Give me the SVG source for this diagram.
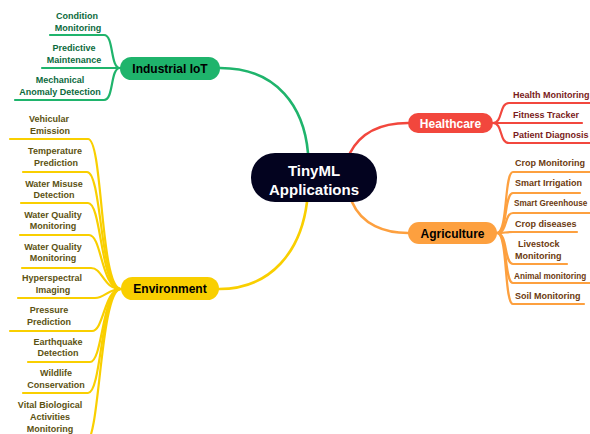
<svg xmlns="http://www.w3.org/2000/svg" width="590" height="434" viewBox="0 0 590 434">
<style>
text{font-family:"Liberation Sans",Arial,sans-serif;font-weight:bold}
.c{fill:none;stroke-width:2.2;stroke-linecap:round}
.m{fill:none;stroke-width:2.6;stroke-linecap:round}
.g{stroke:#1fb46c}.r{stroke:#f2473d}.o{stroke:#fda03f}.y{stroke:#f9cf00}
.tg{fill:#0c6a3d;font-size:9px;text-anchor:middle}
.tr{fill:#7a1b1b;font-size:9px}
.to{fill:#6c3a0f;font-size:9px}
.ts{fill:#6c3a0f;font-size:8.2px}
.ty{fill:#5c5212;font-size:9px;text-anchor:middle}
.lbl{font-size:12px;text-anchor:middle}
</style>
<rect width="590" height="434" fill="#ffffff"/>
<g id="connectors">
  <path class="m g" d="M220,68 C278,68 304,108 308,153"/>
  <path class="m r" d="M350,153 C362,130 385,123 408,123"/>
  <path class="m o" d="M352,202 C362,225 385,233 408,233"/>
  <path class="m y" d="M219,289 C272,289 301,250 307,202"/>
  <path class="c g" d="M50,35 H104 C114,35 110,68 120,68"/>
  <path class="c g" d="M42,68 H120"/>
  <path class="c g" d="M15,100 H104 C114,100 110,68 120,68"/>
  <path class="c r" d="M493,123 C503,123 499,103 509,103 H590"/>
  <path class="c r" d="M493,123 H582"/>
  <path class="c r" d="M493,123 C503,123 499,143 509,143 H590"/>
  <path class="c o" d="M497,233 C508,233 504,172 513,172 H590"/>
  <path class="c o" d="M497,233 C508,233 504,193 513,193 H580"/>
  <path class="c o" d="M497,233 C508,233 504,213 513,213 H590"/>
  <path class="c o" d="M497,233 C506,233 504,232 513,232 H577"/>
  <path class="c o" d="M497,233 C508,233 504,264 513,264 H567"/>
  <path class="c o" d="M497,233 C508,233 504,283 513,283 H590"/>
  <path class="c o" d="M497,233 C508,233 504,304 513,304 H584"/>
  <path class="c y" d="M10,139 H88 C103,139 100,289 121,289"/>
  <path class="c y" d="M23,172 H87 C102,172 100,289 121,289"/>
  <path class="c y" d="M21,203 H88 C102,203 100,289 121,289"/>
  <path class="c y" d="M20,235 H89 C102,235 101,289 121,289"/>
  <path class="c y" d="M22,268 H91 C103,268 103,289 121,289"/>
  <path class="c y" d="M18,298 H95 C105,298 108,289 121,289"/>
  <path class="c y" d="M10,331 H92 C104,331 104,289 121,289"/>
  <path class="c y" d="M28,362 H90 C103,362 102,289 121,289"/>
  <path class="c y" d="M23,393 H88 C102,393 101,289 121,289"/>
  <path class="c y" d="M20,442 H86 C100,442 100,289 121,289"/>
</g>
<g id="center">
  <rect x="251" y="153" width="126" height="49" rx="24" fill="#03031f"/>
  <text x="314" y="176" fill="#ffffff" font-size="15" text-anchor="middle">TinyML</text>
  <text x="314" y="195" fill="#ffffff" font-size="15" text-anchor="middle">Applications</text>
</g>
<g id="industrial-iot">
  <rect x="120" y="57" width="100" height="23" rx="11.5" fill="#1fb46c"/>
  <text class="lbl" x="170" y="73" fill="#000">Industrial IoT</text>
</g>
<g id="condition-monitoring"><text class="tg" x="77" y="19">Condition</text><text class="tg" x="78" y="31">Monitoring</text></g>
<g id="predictive-maintenance"><text class="tg" x="74" y="51">Predictive</text><text class="tg" x="74" y="63">Maintenance</text></g>
<g id="mechanical-anomaly"><text class="tg" x="60" y="83">Mechanical</text><text class="tg" x="60" y="95">Anomaly Detection</text></g>
<g id="healthcare">
  <rect x="408" y="113" width="85" height="20" rx="10" fill="#f2473d"/>
  <text class="lbl" x="450.5" y="127.5" fill="#ffffff">Healthcare</text>
</g>
<g id="health-monitoring"><text class="tr" x="513" y="98">Health Monitoring</text></g>
<g id="fitness-tracker"><text class="tr" x="513" y="118">Fitness Tracker</text></g>
<g id="patient-diagnosis"><text class="tr" x="513" y="138">Patient Diagnosis</text></g>
<g id="agriculture">
  <rect x="408" y="222" width="89" height="22" rx="11" fill="#fda03f"/>
  <text class="lbl" x="452.5" y="237.5" fill="#000">Agriculture</text>
</g>
<g id="crop-monitoring"><text class="to" x="515" y="166">Crop Monitoring</text></g>
<g id="smart-irrigation"><text class="to" x="515" y="186">Smart Irrigation</text></g>
<g id="smart-greenhouse"><text class="ts" x="514" y="206">Smart Greenhouse</text></g>
<g id="crop-diseases"><text class="to" x="515" y="227">Crop diseases</text></g>
<g id="livestock-monitoring"><text class="to" x="518" y="247">Livestock</text><text class="to" x="515" y="259">Monitoring</text></g>
<g id="animal-monitoring"><text class="ts" x="514" y="279">Animal monitoring</text></g>
<g id="soil-monitoring"><text class="to" x="515" y="299">Soil Monitoring</text></g>
<g id="environment">
  <rect x="121" y="277" width="98" height="23" rx="11.5" fill="#f9cf00"/>
  <text class="lbl" x="170" y="293" fill="#000">Environment</text>
</g>
<g id="vehicular-emission"><text class="ty" x="49" y="122">Vehicular</text><text class="ty" x="50" y="134">Emission</text></g>
<g id="temperature-prediction"><text class="ty" x="55" y="154">Temperature</text><text class="ty" x="56" y="166">Prediction</text></g>
<g id="water-misuse"><text class="ty" x="54" y="187">Water Misuse</text><text class="ty" x="54" y="198">Detection</text></g>
<g id="water-quality-1"><text class="ty" x="53" y="218">Water Quality</text><text class="ty" x="53" y="229">Monitoring</text></g>
<g id="water-quality-2"><text class="ty" x="53" y="250">Water Quality</text><text class="ty" x="53" y="261">Monitoring</text></g>
<g id="hyperspectral"><text class="ty" x="52" y="281">Hyperspectral</text><text class="ty" x="53" y="293">Imaging</text></g>
<g id="pressure-prediction"><text class="ty" x="49" y="313">Pressure</text><text class="ty" x="49" y="325">Prediction</text></g>
<g id="earthquake-detection"><text class="ty" x="58" y="345">Earthquake</text><text class="ty" x="58" y="356">Detection</text></g>
<g id="wildlife-conservation"><text class="ty" x="56" y="376">Wildlife</text><text class="ty" x="56" y="388">Conservation</text></g>
<g id="vital-biological"><text class="ty" x="50" y="408">Vital Biological</text><text class="ty" x="50" y="420">Activities</text><text class="ty" x="50" y="432">Monitoring</text></g>
</svg>
